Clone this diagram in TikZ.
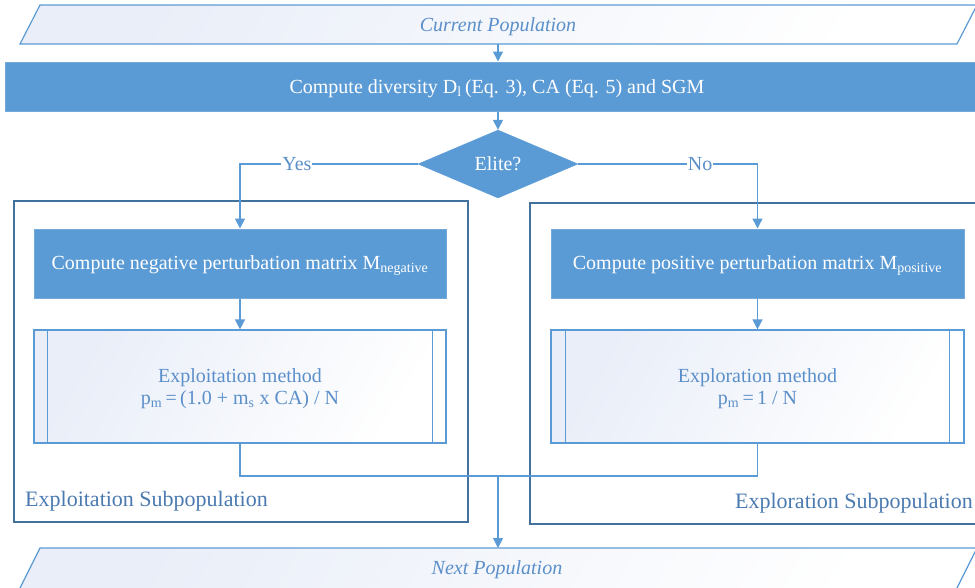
\documentclass[tikz,border=0pt]{standalone}
\usepackage{fontspec}
\setmainfont{Liberation Serif}
\usetikzlibrary{shapes.geometric,arrows.meta,calc}
\definecolor{bfill}{HTML}{5B9BD5}
\definecolor{bline}{HTML}{5B9BD5}
\definecolor{cont}{HTML}{41719C}
\definecolor{ltxt}{HTML}{4A7AB0}
\definecolor{ptxt}{HTML}{5B8FC9}
\definecolor{pale}{HTML}{E9EEF8}
\tikzset{
  conn/.style={draw=bline, line width=1.4pt},
  arr/.style={conn, -{Triangle[length=10pt,width=10pt]}},
  bluebox/.style={rectangle, fill=bfill, draw=bfill!85!white, line width=1pt, text=white, font=\fontsize{20}{24}\selectfont, inner sep=0pt},
  procbox/.style={rectangle, draw=bline, line width=1.2pt, inner sep=0pt},
  proctxt/.style={text=ptxt, font=\fontsize{20}{23}\selectfont, align=center, inner sep=0pt},
  contbox/.style={draw=cont, line width=1.2pt},
  sublabel/.style={text=ltxt, font=\fontsize{22}{24}\selectfont, inner sep=0pt},
  paratxt/.style={text=ptxt, font=\fontsize{20}{24}\itshape\selectfont, inner sep=0pt},
  yn/.style={fill=white, text=ptxt, font=\fontsize{20}{24}\selectfont, inner sep=1pt}
}
\begin{document}
\begin{tikzpicture}[x=1pt,y=-1pt]
\useasboundingbox (0,0) rectangle (975,587);
\clip (0,0) rectangle (975,587);
% current population
\shade[left color=pale, right color=white, shading angle=60] (40,5) -- (977,5) -- (957,44) -- (20,44) -- cycle;
\draw[draw=bline, line width=1.2pt] (40,5) -- (977,5) -- (957,44) -- (20,44) -- cycle;
\node[paratxt] (cur) at (498,27) {Current Population};
\coordinate (curb) at (498,44);
% compute diversity
\node[bluebox, minimum width=984pt, minimum height=49pt] (comp) at (497,86.5) {};
\node[text=white, font=\fontsize{20}{24}\selectfont, inner sep=0pt] (comptxt) at (497,88.5) {Compute diversity D\textsubscript{l}\,(Eq. 3), CA (Eq. 5) and SGM};
% elite
\node[diamond, fill=bfill, draw=bfill, inner sep=0pt, minimum width=160pt, minimum height=68pt, text=white, font=\fontsize{20}{24}\selectfont] (elite) at (498,164) {Elite?};
% containers
\draw[contbox] (14,201) rectangle (468,522);
\draw[contbox] (530,203) rectangle (985,524);
% blue boxes
\node[bluebox, minimum width=412pt, minimum height=69pt] (neg) at (240,263.5) {};
\node[text=white, font=\fontsize{20}{24}\selectfont, inner sep=0pt] (negtxt) at (240,265.5) {Compute negative perturbation matrix M\textsubscript{negative}};
\node[bluebox, minimum width=413pt, minimum height=69pt] (pos) at (757.5,263.5) {};
\node[text=white, font=\fontsize{20}{24}\selectfont, inner sep=0pt] (postxt) at (757.5,265.5) {Compute positive perturbation matrix M\textsubscript{positive}};
% process boxes
\shade[left color=pale, right color=white, shading angle=60] (34,330) rectangle (446,443);
\shade[left color=pale, right color=white, shading angle=60] (551,330) rectangle (964,443);
\node[procbox, minimum width=412pt, minimum height=113pt] (exploit) at (240,386.5) {};
\node[proctxt] (exploittxt) at (240,389) {Exploitation method\\[-1pt]p\textsubscript{m}\,=\,(1.0 + m\textsubscript{s} x CA) / N};
\node[procbox, minimum width=413pt, minimum height=113pt] (explore) at (757.5,386.5) {};
\node[proctxt] (exploretxt) at (757.5,389) {Exploration method\\[-1pt]p\textsubscript{m}\,=\,1 / N};
\draw[draw=bline, line width=1.2pt] ($(exploit.north west)+(14,0)$) -- ($(exploit.south west)+(14,0)$);
\draw[draw=bline, line width=1.2pt] ($(exploit.north east)+(-14,0)$) -- ($(exploit.south east)+(-14,0)$);
\draw[draw=bline, line width=1.2pt] ($(explore.north west)+(15,0)$) -- ($(explore.south west)+(15,0)$);
\draw[draw=bline, line width=1.2pt] ($(explore.north east)+(-15,0)$) -- ($(explore.south east)+(-15,0)$);
% labels
\node[sublabel, anchor=west] (lab1) at (25,501) {Exploitation Subpopulation};
\node[sublabel, anchor=east] (lab2) at (973,503) {Exploration Subpopulation};
% next population
\shade[left color=pale, right color=white, shading angle=60] (40,548) -- (977,548) -- (955,592) -- (18,592) -- cycle;
\draw[draw=bline, line width=1.2pt] (40,548) -- (977,548) -- (955,592) -- (18,592) -- cycle;
\node[paratxt] (next) at (497,570) {Next Population};
\coordinate (nextt) at (498,548);
% connectors
\draw[arr] (curb) -- (comp.north -| curb);
\draw[arr] (comp.south -| elite) -- (elite.north);
\draw[arr] (elite.west) -| node[yn, pos=0.34] {Yes} (neg.north);
\draw[arr] (elite.east) -| node[yn, pos=0.34] {No} (pos.north);
\draw[arr] (neg.south) -- (exploit.north);
\draw[arr] (pos.south) -- (explore.north);
\coordinate (merge) at (498,476);
\draw[conn] (exploit.south) |- (merge);
\draw[conn] (explore.south) |- (merge);
\draw[arr] (merge) -- (nextt);
\end{tikzpicture}
\end{document}
